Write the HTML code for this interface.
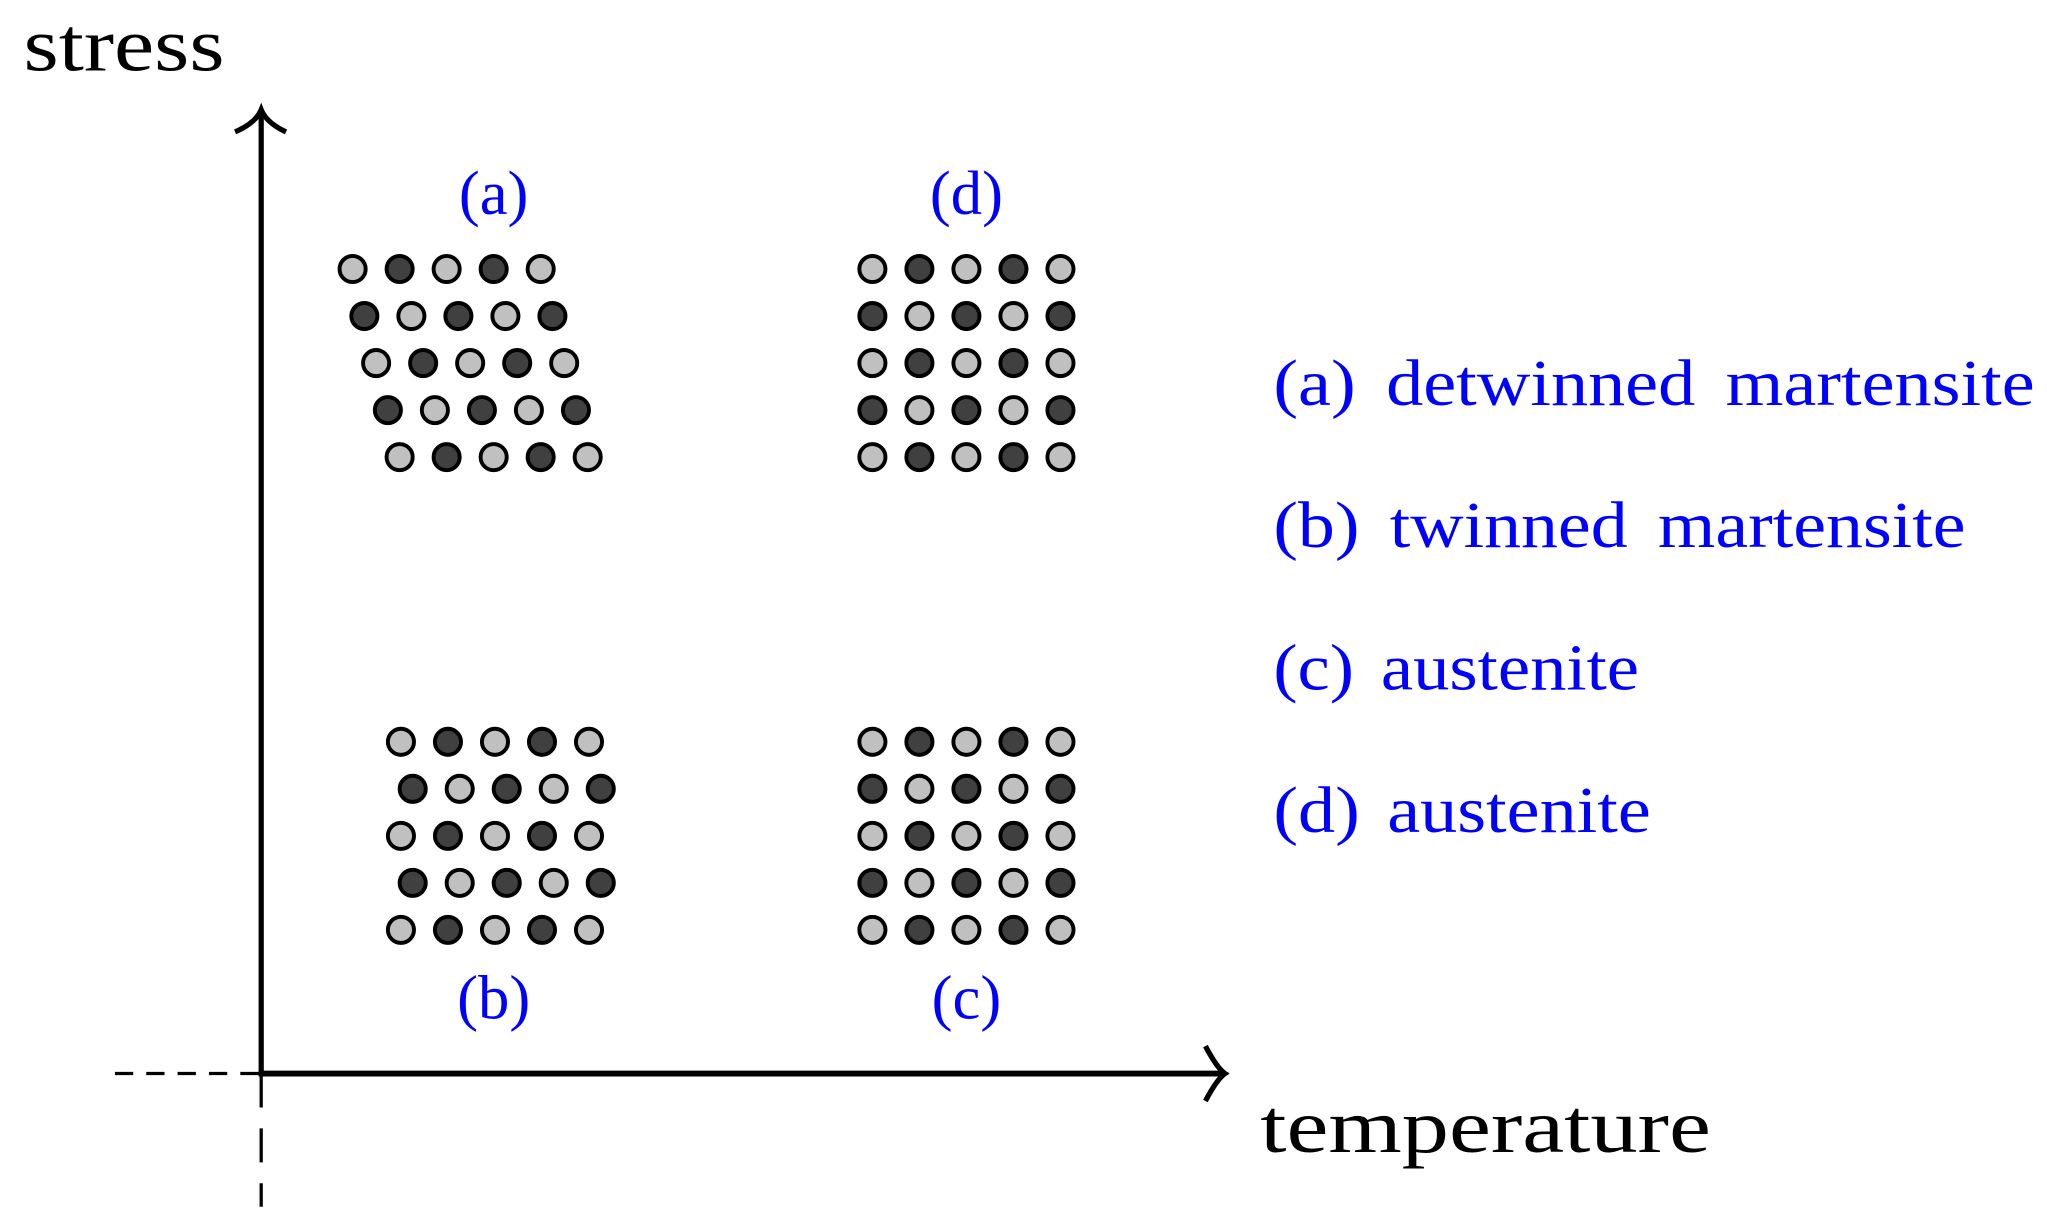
<!DOCTYPE html>
<html><head><meta charset="utf-8"><style>html,body{margin:0;padding:0;background:#fff}svg{display:block}</style></head>
<body>
<svg width="2047" height="1230" viewBox="0 0 1567.4 941.8" preserveAspectRatio="none" xmlns="http://www.w3.org/2000/svg">
<g stroke="#000" fill="none">
<line x1="200" y1="88" x2="200" y2="822" stroke-width="4"/>
<line x1="198" y1="822" x2="936" y2="822" stroke-width="4.5"/>
<path d="M180,101 Q196,94 200,84 Q204,94 219,101" stroke-width="4"/>
<path d="M923,801 Q932,818 938,822 Q932,826 923,843" stroke-width="4"/>
<line x1="88" y1="822" x2="198" y2="822" stroke-width="2.5" stroke-dasharray="14,10"/>
<line x1="200" y1="822" x2="200" y2="924" stroke-width="2.5" stroke-dasharray="26,16"/>
</g>
<g id="dots" stroke="#000" stroke-width="3">
</g>
<g font-family="'Liberation Serif', serif">
<text x="18" y="54" font-size="58" textLength="154" lengthAdjust="spacingAndGlyphs">stress</text>
<text x="965" y="882" font-size="58" textLength="345" lengthAdjust="spacingAndGlyphs">temperature</text>
<g fill="#0000ff" font-size="48">
<text x="378" y="164" text-anchor="middle">(a)</text>
<text x="740" y="164" text-anchor="middle">(d)</text>
<text x="378" y="780" text-anchor="middle">(b)</text>
<text x="740" y="780" text-anchor="middle">(c)</text>
<g font-size="50">
<text x="975" y="310" textLength="583" lengthAdjust="spacingAndGlyphs" word-spacing="8">(a) detwinned martensite</text>
<text x="975" y="419" textLength="530" lengthAdjust="spacingAndGlyphs" word-spacing="8">(b) twinned martensite</text>
<text x="975" y="528" textLength="280" lengthAdjust="spacingAndGlyphs" word-spacing="6">(c) austenite</text>
<text x="975" y="637" textLength="289" lengthAdjust="spacingAndGlyphs" word-spacing="6">(d) austenite</text>
</g>
</g>
</g>
<script>
var g=document.getElementById('dots'),L='#c0c0c0',D='#404040';
function add(xs,ys){for(var r=0;r<5;r++)for(var c=0;c<5;c++){var e=document.createElementNS('http://www.w3.org/2000/svg','circle');e.setAttribute('cx',xs[r]+36*c);e.setAttribute('cy',ys+36*r);e.setAttribute('r',10);e.setAttribute('fill',((r+c)%2==0)?L:D);g.appendChild(e);}}
add([270,279,288,297,306],206);
add([668,668,668,668,668],206);
add([307,316,307,316,307],568);
add([668,668,668,668,668],568);
</script>
</svg>
</body></html>
